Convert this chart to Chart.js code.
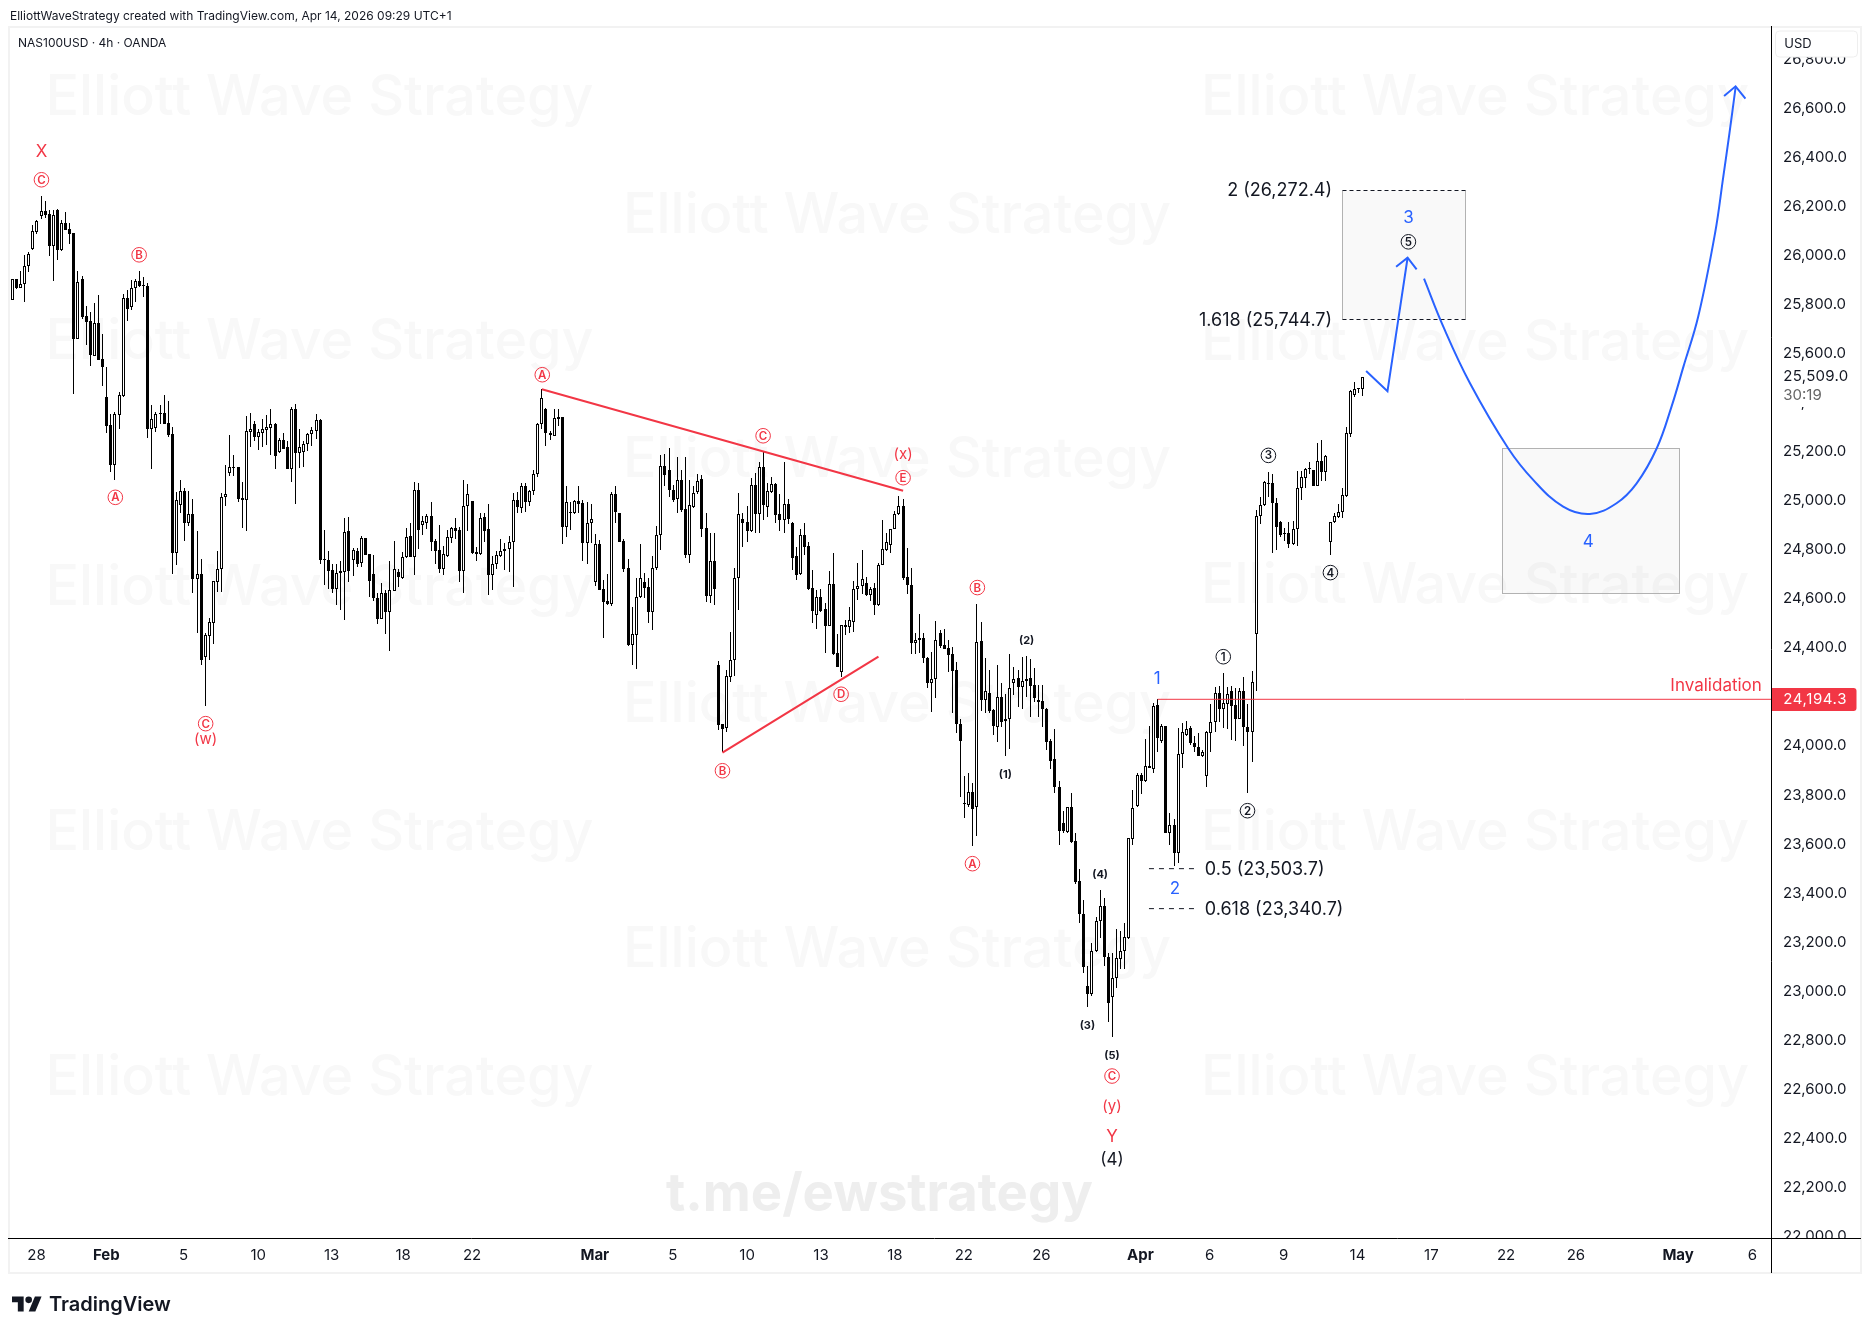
<!DOCTYPE html>
<html><head><meta charset="utf-8"><title>NAS100USD</title>
<script src="https://cdn.jsdelivr.net/npm/chart.js@4/dist/chart.umd.min.js"></script>
<style>
html,body{margin:0;padding:0;background:#fff;width:1871px;height:1334px;overflow:hidden}
canvas{position:absolute;left:0;top:0;display:block}
.t{position:absolute;font-family:Inter,sans-serif;color:#131722;white-space:nowrap;line-height:1}
</style></head><body>
<canvas id="c" width="1871" height="1334"></canvas>
<div class="t" style="left:10px;top:10px;font-size:12px" >ElliottWaveStrategy created with TradingView.com, Apr 14, 2026 09:29 UTC+1</div>
<div class="t" style="left:18px;top:37px;font-size:12px">NAS100USD · 4h · OANDA</div>
<svg style="position:absolute;left:12px;top:1296px" width="30" height="16" viewBox="0 4 36 18"><path fill="#131722" d="M14 22H7V11H0V4h14v18zM28 22h-8l7.5-18h8L28 22z"/><circle fill="#131722" cx="20" cy="8" r="4"/></svg>
<div class="t" style="left:49px;top:1294px;font-size:20px;font-weight:600">TradingView</div>
<script>
const opens=[25822,25907,25870,25887,25960,26030,26102,26166,26184,26172,
26041,26190,26027,26135,26113,26096,25665,25907,25756,25736,
25596,25729,25582,25428,25313,25151,25354,25433,25830,25796,
25870,25900,25883,25880,25298,25302,25361,25361,25321,25276,
24792,24988,25043,24913,24948,24686,24705,24367,24454,24507,
24673,24725,25018,25119,25141,25141,25015,25006,25284,25317,
25265,25281,25293,25302,25317,25203,25250,25223,25135,25377,
25200,25204,25234,25275,25290,25333,24765,24761,24720,24646,
24708,24715,24879,24761,24798,24752,24851,24786,24705,24606,
24523,24627,24552,24637,24714,24689,24773,24860,24776,25047,
24904,24915,24942,24839,24802,24727,24780,24854,24892,24885,
24716,24981,25002,24794,24788,24936,24888,24703,24748,24780,
24798,24806,24834,25006,24973,25063,25000,25042,25112,25316,
25377,25282,25269,25344,25344,24898,24957,24955,25002,24996,
24833,24912,24671,24828,24644,24594,24583,25032,24953,24840,
24728,24417,24458,24610,24673,24651,24549,24728,24863,25144,
25128,25048,25010,25087,24969,24781,24977,25041,25093,24893,
24617,24757,24334,24092,24076,24285,24353,24688,24930,24916,
24882,25068,24949,25140,24980,25040,25072,24950,24926,24989,
24915,24779,24704,24864,24819,24647,24539,24610,24563,24495,
24663,24382,24306,24496,24489,24511,24643,24658,24667,24620,
24648,24578,24741,24803,24825,24890,24950,24983,24692,24659,
24424,24435,24443,24361,24262,24276,24463,24414,24402,24378,
24314,24092,23770,23765,23815,23754,24432,24193,24219,24151,
24080,24204,24105,24112,24262,24280,24246,24270,24280,24251,
24192,24186,24155,24024,23950,23835,23689,23653,23754,23617,
23452,23319,23024,22994,23167,23289,23350,23144,22982,23056,
23134,23167,23221,23626,23761,23886,23863,23921,23911,24171,
24023,24086,23651,23680,23569,23970,24050,24076,24015,23998,
23965,23883,24058,24103,24219,24156,24176,24227,24173,24114,
24228,24083,24062,24462,24940,24987,25076,25075,24996,24917,
24871,24873,24829,24887,25055,25095,25135,25129,25066,25165,
25123,24834,24916,24939,24957,25025,25276,25437,25460,25458];
const highs=[25907,25910,25940,26005,26019,26127,26147,26246,26226,26189,
26191,26193,26147,26180,26136,26096,25943,25921,25798,25775,
25811,25843,25683,25549,25357,25368,25447,25847,25863,25903,
25907,25940,25916,25892,25394,25368,25394,25436,25410,25306,
25040,25088,25055,25042,25011,24882,24766,24463,24526,24676,
24799,25036,25149,25272,25190,25141,25080,25348,25361,25330,
25298,25338,25352,25378,25320,25259,25279,25249,25385,25399,
25295,25249,25279,25303,25358,25336,24885,24798,24745,24745,
24757,24934,24938,24810,24810,24860,24851,24786,24783,24627,
24669,24640,24757,24839,24724,24794,24892,24912,25079,25075,
24942,24950,24999,24847,24905,24820,24885,24896,24934,24896,
25089,25072,25004,24814,24953,24953,24991,24779,24798,24848,
24830,24860,25034,25040,25075,25075,25048,25129,25323,25458,
25381,25290,25377,25377,25344,25063,24998,25007,25063,25007,
25000,24989,24868,24844,24681,24705,25041,25063,24953,24847,
24765,24569,24690,24828,24708,24688,24779,24901,25191,25195,
25218,25068,25181,25129,25181,25089,25064,25113,25109,24953,
24874,24871,24351,24092,24314,24469,24728,25036,24953,24984,
25095,25119,25163,25204,25075,25102,25075,25030,25162,25010,
24917,24817,24887,24912,24837,24722,24640,24643,24586,24718,
24792,24459,24497,24518,24569,24678,24751,24803,24692,24654,
24667,24751,24926,24871,24890,24962,25023,25010,24810,24728,
24463,24542,24463,24365,24389,24514,24477,24480,24436,24406,
24345,24113,23882,23892,23852,24582,24508,24361,24314,24155,
24334,24259,24216,24379,24325,24314,24368,24371,24357,24321,
24253,24253,24158,24031,24073,23861,23740,23757,23811,23648,
23501,23376,23107,23199,23308,23417,23383,23161,23159,23258,
23250,23281,23627,23825,23895,23895,24031,24087,24178,24194,
24094,24086,23729,23706,24076,24096,24106,24086,24045,24058,
23988,24065,24175,24246,24249,24300,24243,24249,24239,24239,
24287,24175,24311,24966,25018,25086,25121,25113,25014,24920,
24894,24917,24920,25125,25127,25136,25161,25129,25238,25252,
25189,24916,24955,24991,25055,25303,25456,25488,25462,25509];
const lows=[25822,25867,25870,25816,25938,26026,26092,26153,26158,26002,
25902,25986,26023,26109,26051,25439,25665,25747,25640,25554,
25596,25579,25472,25281,25122,25090,25298,25428,25736,25783,
25816,25874,25836,25261,25134,25284,25317,25317,25265,24707,
24740,24955,24838,24900,24628,24465,24336,24167,24355,24421,
24631,24631,24984,25106,25106,25000,24893,24882,25224,25248,
25213,25224,25230,25192,25135,25200,25216,25135,25082,24992,
25139,25143,25208,25229,25257,24748,24662,24644,24629,24580,
24559,24519,24674,24699,24735,24734,24784,24613,24597,24503,
24523,24462,24393,24637,24654,24685,24769,24776,24701,24807,
24864,24890,24801,24746,24711,24703,24776,24830,24847,24674,
24629,24881,24787,24758,24784,24837,24621,24640,24727,24775,
24722,24715,24654,24955,24955,24960,24983,25028,25102,25298,
25229,25252,25269,25309,24829,24858,24885,24951,24953,24760,
24747,24833,24658,24641,24446,24579,24575,24915,24837,24715,
24412,24334,24319,24609,24606,24504,24477,24722,24803,25066,
25021,25000,24953,24960,24769,24751,24973,25033,24855,24592,
24586,24579,24069,23978,24062,24264,24289,24559,24817,24836,
24878,24874,24874,24926,24936,25034,24912,24882,24871,24909,
24722,24681,24703,24783,24640,24504,24480,24552,24382,24494,
24374,24325,24287,24457,24463,24470,24599,24624,24616,24595,
24538,24575,24741,24800,24792,24890,24946,24681,24624,24379,
24379,24382,24341,24239,24144,24201,24402,24401,24307,24140,
24056,23797,23709,23757,23598,23637,24147,24140,24140,24049,
24022,24083,23965,23992,24212,24164,24155,24205,24121,24185,
24124,24083,23988,23909,23811,23602,23651,23651,23610,23440,
23281,23080,22941,22984,23165,23222,23107,22880,22819,23016,
23096,23093,23216,23600,23757,23808,23859,23913,23892,23981,
24018,23648,23600,23516,23528,23916,24045,24008,23981,23963,
23959,23835,23981,24060,24103,24076,24073,24028,24026,24114,
24004,23814,23940,24230,24911,24983,25021,24792,24803,24858,
24840,24811,24825,24821,25007,25055,25113,25066,25066,25086,
25086,24784,24915,24935,24932,25021,25265,25428,25442,25433];
const closes=[25907,25870,25887,25960,26009,26103,26144,26184,26169,26041,
26169,26027,26135,26110,26092,25665,25895,25754,25734,25600,
25729,25579,25550,25310,25151,25357,25436,25830,25787,25870,
25900,25880,25881,25298,25337,25356,25359,25317,25272,24792,
25007,25042,24913,24948,24686,24705,24356,24456,24509,24676,
24725,25020,25031,25141,25139,25013,25006,25288,25295,25265,
25284,25295,25303,25316,25188,25250,25216,25135,25377,25200,
25222,25234,25276,25291,25332,24762,24764,24719,24644,24709,
24716,24875,24719,24802,24748,24851,24784,24678,24608,24523,
24627,24552,24639,24724,24692,24773,24858,24776,25047,24886,
24920,24942,24837,24801,24727,24786,24855,24892,24882,24719,
24981,25030,24791,24788,24932,24882,24703,24745,24781,24798,
24806,24834,25006,24980,25063,25000,25042,25112,25317,25422,
25279,25271,25340,25339,24898,24998,24955,25002,24992,24833,
24912,24928,24826,24641,24592,24583,25030,24960,24837,24727,
24416,24459,24610,24688,24650,24549,24728,24863,25144,25108,
25046,25007,25087,24966,24781,24985,25037,25086,24890,24617,
24757,24646,24091,24075,24289,24353,24688,24949,24915,24882,
25067,24949,25140,24988,25042,25071,24947,24926,24989,24931,
24772,24701,24864,24817,24646,24556,24610,24554,24495,24663,
24379,24327,24496,24491,24516,24643,24658,24684,24620,24643,
24578,24741,24806,24834,24890,24949,24983,24688,24659,24425,
24435,24443,24361,24259,24276,24435,24412,24401,24376,24311,
24092,24026,23768,23815,23748,24427,24193,24227,24148,24086,
24202,24103,24113,24239,24279,24246,24268,24279,24250,24198,
24185,24153,24022,23944,23835,23659,23659,23755,23614,23451,
23318,23104,22994,23167,23290,23350,23142,22957,23056,23138,
23167,23224,23627,23750,23884,23863,23921,23913,24167,24038,
24084,23648,23680,23569,23970,24062,24075,24015,23998,23965,
23978,24061,24100,24219,24156,24178,24215,24167,24114,24227,
24083,24062,24264,24943,24985,25081,25074,24996,24898,24864,
24870,24829,24887,25055,25100,25133,25136,25066,25165,25123,
25186,24916,24940,24957,25026,25279,25450,25458,25462,25509];

const yTicks=[22000,22200,22400,22600,22800,23000,23200,23400,23600,23800,24000,24200,24400,24600,24800,25000,25200,25400,25600,25800,26000,26200,26400,26600,26800];
const xTickPos=[5.9,22.9,41.75,59.9,77.8,95.2,112,141.9,160.9,179,197,215,231.8,250.7,274.8,291.7,309.7,327.7,345.7,363.9,380.9,405.8,423.9];
const xTickText=['28','Feb','5','10','13','18','22','Mar','5','10','13','18','22','26','Apr','6','9','14','17','22','26','May','6'];
const boldTicks=['Feb','Mar','Apr','May'];

const RED='#f23645',BLUE='#2962ff',INK='#131722';
const triangleTop=[[129,25458.5],[217,25045]];
const triangleBottom=[[173,23976.6],[211,24368]];
const invalidationLine=[[279,24194.3],[428.55,24194.3]];
const fibHalf=[[276.9,23503.7],[287.9,23503.7]];
const fib618=[[276.9,23340.7],[287.9,23340.7]];
const wave3Path=[[329.8,25533],[335,25450.3],[339.9,25995]];
const wave3Head=[[337.1,25958.5],[339.9,25995],[342.1,25947.9]];
const wave45Curve=[[343.9,25909.6],[348.6,25713.8],[355.1,25483],[364.4,25218],[370.5,25089],[377.8,24980],[384.3,24950],[390.8,24994],[395.7,25075],[400.6,25218],[404.2,25388],[407.1,25551],[410.7,25755],[414.8,26095],[416.8,26325],[418.3,26502],[419.8,26690]];
const wave5Head=[[417,26654.6],[419.8,26694],[422.2,26643.6]];
const targetBox=[324,354,26272.4,25744.7];
const wave4Box=[363,406,25218,24626.6];
const redCircled=[['C',7.1,26313],['B',30.9,26007],['A',25.1,25018],['C',47.1,24095],['A',129.1,25518],['C',182.9,25269],['E',217,25098],['D',201.9,24215],['B',173,23903],['B',235.1,24650],['A',233.9,23524],['C',267.9,22658]];
const blackCircled=[['1',295,24368],['2',300.9,23740],['3',306,25189],['4',321.1,24711],['5',340.1,26060]];
const redText=[['X',7.1,26432,17],['(w)',47.1,24032,15],['(x)',217,25197,15],['(y)',267.9,22536,15],['Y',267.9,22413,17]];
const blackSmall=[['(1)',241.9,23888],['(2)',247.1,24436],['(3)',261.9,22865],['(4)',265,23481],['(5)',267.9,22745]];
const blueText=[['1',278.9,24280],['2',283.2,23425],['3',340.1,26160],['4',383.9,24841]];
const fibText=[['0.5 (23,503.7)',290.5,23503.7,'left'],['0.618 (23,340.7)',290.5,23340.7,'left'],['2 (26,272.4)',321.5,26272.4,'right'],['1.618 (25,744.7)',321.5,25744.7,'right']];
const wmLeft=[[115,45.5],[359,45.5],[605,45.5],[850,45.5],[1095,45.5]];
const wmMid=[[233,623],[477,623],[722,623],[967,623]];
const wmRight=[[115,1201],[360,1201],[603,1201],[850,1201],[1095,1201]];

const xy=a=>a.map(p=>({x:p[0],y:p[1]}));
const idx=opens.map((_,i)=>i);
const lineSet=(pts,color,width,extra)=>Object.assign({type:'line',data:xy(pts),borderColor:color,borderWidth:width,pointRadius:0,fill:false,order:1,tension:0},extra||{});

const snapPlugin={id:'snap',afterDatasetsUpdate(chart){
  chart.data.datasets.forEach((d,i)=>{
    if(d.type==='line')return;
    chart.getDatasetMeta(i).data.forEach(el=>{
      el.x=Math.floor(el.x)+0.5;
      el.y=Math.round(el.y);el.base=Math.round(el.base);
      if(el.y===el.base)el.base=el.y+1;
    });
  });
},beforeDraw(chart){
  const Y=chart.scales.y;
  if(!Y.$shifted){
    Y.getLabelItems(chart.chartArea).forEach(it=>{it.options.translation=[it.options.translation[0],it.options.translation[1]-1];});
    Y.$shifted=true;
  }
}};
const drawPlugin={id:'draw',
 beforeDatasetsDraw(chart){
  const c=chart.ctx,X=chart.scales.x,Y=chart.scales.y;
  c.save();
  c.textBaseline='alphabetic';c.textAlign='left';
  c.font='500 55.7px Inter';c.fillStyle='#f8f8f8';
  [wmLeft,wmMid,wmRight].forEach(g=>g.forEach(p=>c.fillText('Elliott Wave Strategy',p[1],p[0])));
  c.font='700 52.6px Inter';c.fillStyle='#eeeeee';
  c.fillText('t.me/ewstrategy',666,1211);
  [targetBox,wave4Box].forEach((b,i)=>{
    const l=Math.round(X.getPixelForValue(b[0]))+.5,r=Math.round(X.getPixelForValue(b[1]))+.5,t=Math.round(Y.getPixelForValue(b[2]))+.5,m=Math.round(Y.getPixelForValue(b[3]))+.5;
    c.fillStyle='rgba(120,120,120,0.045)';c.fillRect(l,t,r-l,m-t);
    c.strokeStyle='#b2b2b2';c.lineWidth=1;
    if(i===1){c.strokeRect(l,t,r-l,m-t);}
    else{
      c.beginPath();c.moveTo(l,t);c.lineTo(l,m);c.moveTo(r,t);c.lineTo(r,m);c.stroke();
      c.strokeStyle='#131722';c.setLineDash([4,3]);
      c.beginPath();c.moveTo(l,t);c.lineTo(r,t);c.moveTo(l,m);c.lineTo(r,m);c.stroke();c.setLineDash([]);
    }
  });
  c.restore();
 },
 afterDraw(chart){
  const c=chart.ctx,X=chart.scales.x,Y=chart.scales.y;
  const A=chart.chartArea;
  const px=(k)=>X.getPixelForValue(k),py=(p)=>Y.getPixelForValue(p);
  c.save();
  c.textBaseline='middle';c.textAlign='center';
  const circled=(list,color)=>list.forEach(m=>{
    const x=px(m[1]),y=py(m[2]);
    c.strokeStyle=color;c.lineWidth=1;c.beginPath();c.arc(x,y,7.3,0,Math.PI*2);c.stroke();
    c.fillStyle=color;c.font='600 11.5px Inter';c.fillText(m[0],x,y+.5);
  });
  circled(redCircled,RED);circled(blackCircled,INK);
  redText.forEach(m=>{c.fillStyle=RED;c.font=m[3]+'px Inter';c.fillText(m[0],px(m[1]),py(m[2])+.8);});
  blackSmall.forEach(m=>{c.fillStyle=INK;c.font='700 11px Inter';c.fillText(m[0],px(m[1]),py(m[2])+.7);});
  c.fillStyle=INK;c.font='17px Inter';c.fillText('(4)',px(267.9),py(22322)+1.5);
  blueText.forEach(m=>{c.fillStyle=BLUE;c.font='17px Inter';c.fillText(m[0],px(m[1]),py(m[2])+.8);});
  fibText.forEach(m=>{c.fillStyle=INK;c.font='18px Inter';c.textAlign=m[3];c.fillText(m[0],px(m[1]),py(m[2])+1);});
  c.textAlign='right';c.fillStyle=RED;c.font='17px Inter';c.fillText('Invalidation',px(426.2),py(24252.7)+.8);

  // pane frame and axis lines
  c.strokeStyle='#f2f2f2';c.lineWidth=2;c.strokeRect(9,27,1852,1246);
  c.fillStyle='#fff';c.fillRect(1773,1239,87,33);
  c.fillRect(1773,362,87,45);
  c.strokeStyle='#000';c.lineWidth=1;c.beginPath();
  c.moveTo(A.right+.0,26);c.lineTo(A.right+.0,1273);c.moveTo(8,A.bottom+.5);c.lineTo(1861,A.bottom+.5);c.stroke();
  // price labels
  c.textAlign='left';c.textBaseline='middle';
  c.fillStyle=INK;c.font='15px Inter';c.letterSpacing='0.3px';c.fillText('25,509.0',1783.3,376);
  c.fillStyle='#666';c.letterSpacing='0px';c.fillText('30:19',1783.3,395);
  c.fillStyle=RED;c.beginPath();c.roundRect(1772,688,84.5,23,[0,3,3,0]);c.fill();
  c.fillStyle='#fff';c.letterSpacing='0.6px';c.fillText('24,194.3',1783.3,699.5);c.letterSpacing='0px';
  c.fillStyle='#fff';c.strokeStyle='#eeeeee';c.beginPath();c.roundRect(1775.5,31,82,26,4);c.fill();c.stroke();
  c.fillStyle=INK;c.font='13px Inter';c.fillText('USD',1784.3,44);
  c.restore();
 }};

new Chart(document.getElementById('c'),{
 type:'bar',
 data:{datasets:[
  lineSet(triangleTop,RED,2),
  lineSet(triangleBottom,RED,2),
  lineSet(invalidationLine,RED,1),
  lineSet(fibHalf,INK,1,{borderDash:[5,5]}),
  lineSet(fib618,INK,1,{borderDash:[5,5]}),
  lineSet(wave3Path,BLUE,2),
  lineSet(wave3Head,BLUE,2),
  lineSet(wave45Curve,BLUE,2,{tension:0.4}),
  lineSet(wave5Head,BLUE,2),
  {label:'bodies',data:idx.map(i=>({x:i,y:[opens[i],closes[i]]})),
   backgroundColor:idx.map(i=>closes[i]>=opens[i]?'#ffffff':'#000000'),
   borderColor:'#000000',borderWidth:1,borderSkipped:false,barThickness:3,grouped:false,inflateAmount:0,order:3},
  {label:'wicks',data:idx.map(i=>({x:i,y:[lows[i],highs[i]]})),
   backgroundColor:'#000000',borderWidth:0,barThickness:1,grouped:false,inflateAmount:0,order:4}
 ]},
 options:{responsive:false,animation:false,devicePixelRatio:1,
  layout:{autoPadding:false,padding:{left:8,top:26,right:10,bottom:61}},
  plugins:{legend:{display:false},tooltip:{enabled:false}},
  events:[],
  scales:{
   x:{type:'linear',min:-1.0475,max:428.55,offset:false,
    grid:{display:false,drawTicks:false},border:{display:false},
    afterBuildTicks:a=>{a.ticks=xTickPos.map(value=>({value}));},
    afterFit:s=>{s.height=35;},
    ticks:{autoSkip:false,maxRotation:0,minRotation:0,padding:8,color:INK,
     callback:(v,i)=>xTickText[i],
     font:ctx=>({family:'Inter',size:15,weight:boldTicks.includes(xTickText[ctx.index])?'700':'400'})}},
   y:{type:'linear',position:'right',min:21997.5,max:26940.1,
    grid:{display:false,drawTicks:false},border:{display:false},
    afterBuildTicks:a=>{a.ticks=yTicks.map(value=>({value}));},
    afterFit:s=>{s.width=89.5;},
    ticks:{padding:11.5,color:INK,autoSkip:false,
     callback:v=>Number(v).toLocaleString('en-US',{minimumFractionDigits:1,maximumFractionDigits:1}),
     font:{family:'Inter',size:15}}}
  }
 },
 plugins:[snapPlugin,drawPlugin]
});
</script>
</body></html>
